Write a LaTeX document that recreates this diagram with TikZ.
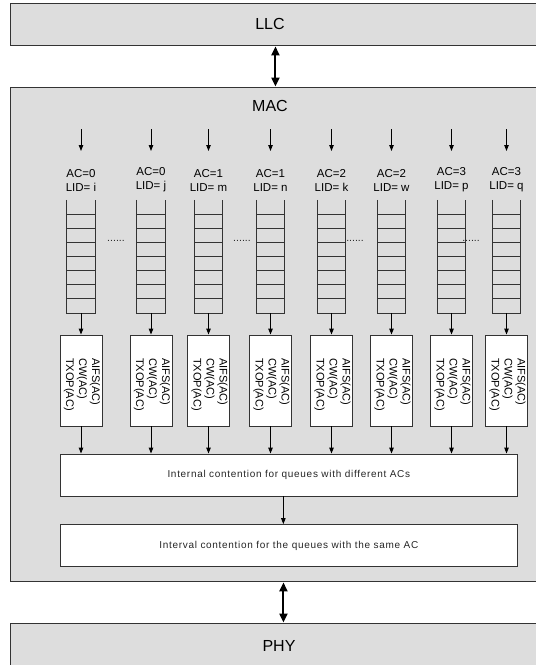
\documentclass[tikz,border=0pt]{standalone}
\usepackage{fontspec}
\setmainfont{Liberation Sans}
\newfontfamily\spacedfont[LetterSpace=7]{Liberation Sans}
\usetikzlibrary{arrows.meta}
\definecolor{layergray}{HTML}{DDDDDD}
\definecolor{edge}{HTML}{333333}
\tikzset{
  layer/.style={draw=edge, line width=0.9pt, fill=layergray, anchor=north west, inner sep=0pt},
  layertext/.style={font=\fontsize{16}{18}\selectfont},
  arr/.style={draw=black, line width=0.9pt, -{Triangle[length=6pt,width=4.5pt]}},
  dblarr/.style={draw=black, line width=2pt, {Triangle[length=9pt,width=8pt]}-{Triangle[length=9pt,width=8pt]}, shorten <=0.5pt, shorten >=0.5pt},
  aclab/.style={font=\fontsize{11.5}{14}\selectfont, align=center, inner sep=0pt},
  queue/.style={minimum width=28pt, minimum height=113pt, inner sep=0pt, draw=none},
  qline/.style={draw=edge, line width=0.9pt},
  param/.style={draw=edge, line width=0.9pt, fill=white, minimum width=42pt, minimum height=91pt, inner sep=0pt},
  paramtext/.style={rotate=-90, font=\fontsize{11}{13}\selectfont, align=left, inner sep=0pt},
  cbox/.style={draw=edge, line width=0.9pt, fill=white, minimum width=457.7pt, minimum height=42pt, inner sep=0pt, font=\spacedfont\fontsize{10}{12}\selectfont, text=black!85},
  dots/.style={font=\fontsize{10.5}{10}\selectfont, inner sep=0pt, text=black!85}
}
\begin{document}
\begin{tikzpicture}[x=1pt,y=-1pt]
\useasboundingbox (0,0) rectangle (536,665);
\fill[white] (0,0) rectangle (536,665);

% layers
\node[layer, minimum width=540pt, minimum height=42pt] (llc) at (10,3) {};
\node[layertext] (llct) at (270,24) {LLC};
\node[layer, minimum width=540pt, minimum height=494pt] (mac) at (10,87) {};
\node[layertext] (mact) at (270,106) {MAC};
\node[layer, minimum width=540pt, minimum height=50pt] (phy) at (10,623) {};
\node[layertext] (phyt) at (279,646) {PHY};

\draw[dblarr] ([xshift=-5pt]llc.south) -- ([xshift=-5pt]mac.north);
\draw[dblarr] ([xshift=3pt]mac.south) -- ([xshift=3pt]phy.north);

% contention boxes
\node[cbox] (c1) at (288.85,475) {Internal contention for queues with different ACs};
\node[cbox] (c2) at (288.85,545.6) {Interval contention for the queues with the same AC};
\draw[arr] ([xshift=-5.5pt]c1.south) -- ([xshift=-5.5pt]c2.north);

% columns
\foreach \i/\x/\ac/\lid in {1/81/0/i, 2/151/0/j, 3/208.5/1/m, 4/270.5/1/n, 5/331.5/2/k, 6/391.5/2/w, 7/451.5/3/p, 8/506.5/3/q}{
  \coordinate (t\i) at (\x,129);
  \coordinate (e\i) at (\x,151);
  \draw[arr] (t\i) -- (e\i);
  \node[aclab] (l\i) at (\x,180) {AC=\ac\\LID= \lid};
  \node[queue] (q\i) at (\x,256.5) {};
  \draw[qline] (q\i.north west) -- (q\i.south west) -- (q\i.south east) -- (q\i.north east);
  \foreach \k in {0,...,6}{
    \draw[qline] ([yshift={-(14.3+14.14*\k)*1pt}]q\i.north west) -- ([yshift={-(14.3+14.14*\k)*1pt}]q\i.north east);
  }
  \node[param] (p\i) at (\x,380.5) {};
  \node[paramtext] (pt\i) at ([xshift=1pt,yshift=-4pt]p\i.center) {AIFS(AC)\\CW(AC)\\TXOP(AC)};
  \draw[arr] (q\i.south) -- (p\i.north);
  \draw[arr] (p\i.south) -- (p\i.south |- c1.north);
}

% dots
\node[dots] (d1) at (116,241) {......};
\node[dots] (d2) at (242,241) {......};
\node[dots] (d3) at (355,241) {......};
\node[dots] (d4) at (471,241) {......};
\end{tikzpicture}
\end{document}
